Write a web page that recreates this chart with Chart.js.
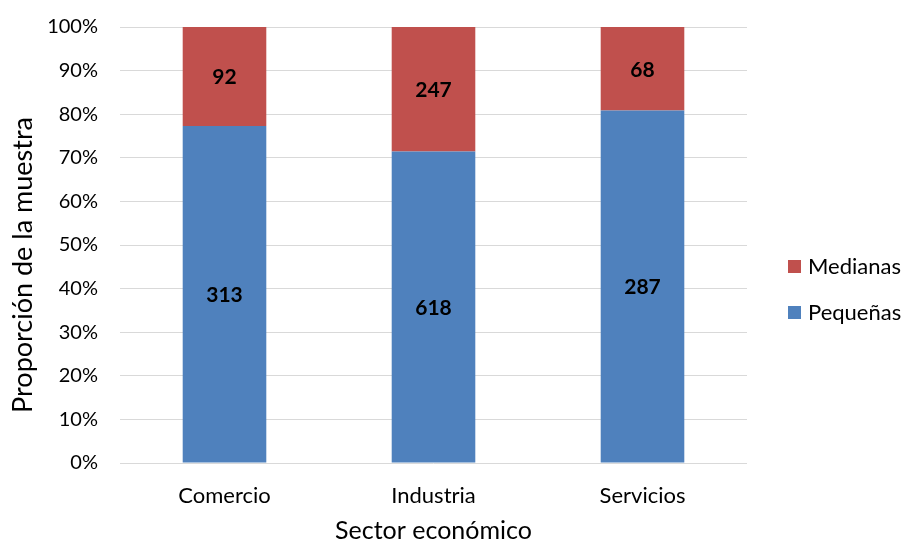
<!DOCTYPE html>
<html>
<head>
<meta charset="utf-8">
<script src="https://cdn.jsdelivr.net/npm/chart.js@4/dist/chart.umd.min.js"></script>
<style>
  html, body { margin: 0; padding: 0; background: #fff; }
  #wrap { width: 904px; height: 542px; }
</style>
</head>
<body>
<div id="wrap"><canvas id="sectorChart" width="904" height="542"></canvas></div>
<script>
const sectores = ["Comercio", "Industria", "Servicios"];
const pequenas = [313, 618, 287];
const medianas = [92, 247, 68];
const yTicks = [0, 10, 20, 30, 40, 50, 60, 70, 80, 90, 100];

const FONT = "Lato, 'Open Sans', sans-serif";

// proporción de cada sector
const totales = sectores.map((_, i) => pequenas[i] + medianas[i]);
const pctPeq = pequenas.map((v, i) => v / totales[i] * 100);
const pctMed = medianas.map((v, i) => v / totales[i] * 100);

// etiquetas con el número de empresas dentro de cada tramo
const valueLabels = {
  id: "valueLabels",
  afterDatasetsDraw(chart) {
    const ctx = chart.ctx;
    ctx.save();
    ctx.font = "bold 21px " + FONT;
    ctx.fillStyle = "#000";
    ctx.textAlign = "center";
    ctx.textBaseline = "middle";
    chart.data.datasets.forEach((ds, di) => {
      chart.getDatasetMeta(di).data.forEach((bar, i) => {
        const mid = (bar.y + bar.base) / 2;
        ctx.fillText(String(ds.counts[i]), bar.x, mid + 1);
      });
    });
    ctx.restore();
  }
};

// leyenda a la derecha (Medianas arriba) y título vertical del eje y
const sideLegend = {
  id: "sideLegend",
  afterDraw(chart) {
    const ctx = chart.ctx;
    const x = chart.chartArea.right + 41;
    let y = 267;
    ctx.save();
    ctx.font = "22px " + FONT;
    ctx.textBaseline = "middle";
    ctx.textAlign = "left";
    [...chart.data.datasets].reverse().forEach(ds => {
      ctx.fillStyle = ds.backgroundColor;
      ctx.fillRect(x, y - 7, 13, 13);
      ctx.fillStyle = "#000";
      ctx.fillText(ds.label, x + 20, y);
      y += 46;
    });

    ctx.translate(23, 265);
    ctx.rotate(-Math.PI / 2);
    ctx.font = "27px " + FONT;
    ctx.textAlign = "center";
    ctx.fillText("Proporción de la muestra", 0, 0);
    ctx.restore();
  }
};

new Chart(document.getElementById("sectorChart"), {
  type: "bar",
  data: {
    labels: sectores,
    datasets: [
      { label: "Pequeñas", data: pctPeq, counts: pequenas, backgroundColor: "#4F81BD" },
      { label: "Medianas", data: pctMed, counts: medianas, backgroundColor: "#C0504D" }
    ]
  },
  options: {
    responsive: false,
    animation: false,
    layout: { padding: { left: 0, right: 157, top: 27, bottom: 0 } },
    datasets: { bar: { categoryPercentage: 1, barPercentage: 0.4 } },
    plugins: { legend: { display: false }, tooltip: { enabled: false } },
    scales: {
      x: {
        stacked: true,
        grid: { display: false },
        border: { display: false },
        ticks: { color: "#000", font: { family: FONT, size: 22 }, padding: 12 },
        title: { display: true, text: "Sector económico", color: "#000",
                 font: { family: FONT, size: 25 }, padding: { top: 0, bottom: -4 } },
        afterFit: s => { s.height = 79; s.paddingLeft = 0; s.paddingRight = 0; }
      },
      y: {
        stacked: true,
        min: 0,
        max: 100,
        afterBuildTicks: s => { s.ticks = yTicks.map(v => ({ value: v })); },
        grid: { color: "#D9D9D9", lineWidth: 1, drawTicks: false },
        border: { display: false },
        ticks: { color: "#000", font: { family: FONT, size: 20 }, padding: 22,
                 callback: v => v + "%" },
        afterFit: s => { s.width = 120; s.paddingTop = 0; s.paddingBottom = 0; }
      }
    }
  },
  plugins: [valueLabels, sideLegend]
});
</script>
</body>
</html>
